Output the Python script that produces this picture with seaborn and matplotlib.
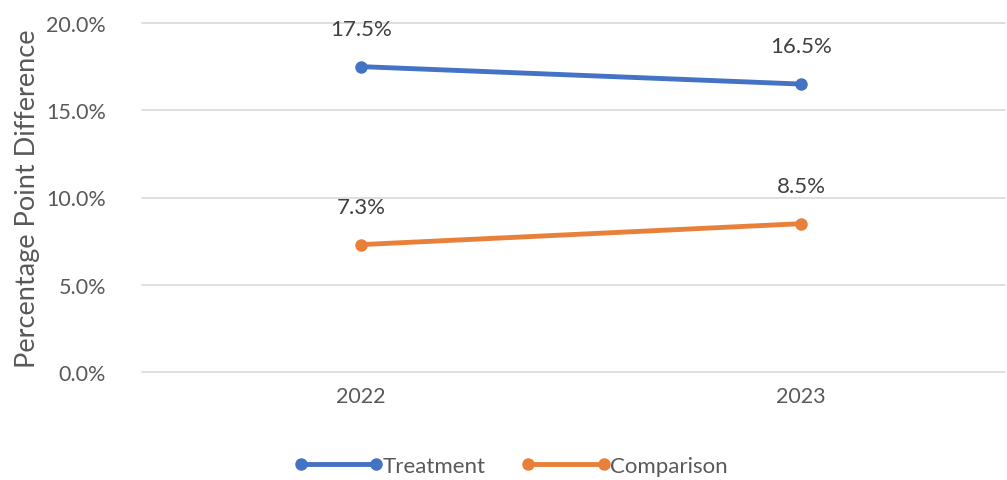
import matplotlib
matplotlib.use("Agg")
import matplotlib.pyplot as plt
import seaborn as sns
import pandas as pd
from matplotlib.ticker import FuncFormatter

years = ["2022", "2023"]
treatment = [17.5, 16.5]
comparison = [7.3, 8.5]
series_names = ["Treatment", "Comparison"]
colors = ["#4472C4", "#E8803A"]

df = pd.DataFrame({
    "Year": years * 2,
    "x": [0, 1] * 2,
    "Value": treatment + comparison,
    "Series": [series_names[0]] * 2 + [series_names[1]] * 2,
})

sns.set_style("white")
plt.rcParams["font.family"] = ["Lato", "DejaVu Sans"]
txt = "#595959"

fig = plt.figure(figsize=(10.07, 4.81), dpi=100)
ax = fig.add_axes([142/1007, 1-373/481, (1005-142)/1007, (373-24)/481])

sns.lineplot(data=df, x="x", y="Value", hue="Series", palette=colors,
             marker="o", markersize=9, markeredgewidth=0, linewidth=3.5,
             ax=ax, legend=True)

for name, vals in zip(series_names, [treatment, comparison]):
    for i, v in enumerate(vals):
        ax.annotate(f"{v:.1f}%", (i, v), xytext=(0, 20), textcoords="offset points",
                    ha="center", va="bottom", fontsize=16, color="#404040")

ax.set_xlim(-(361-142)/440, (1005-361)/440)
ax.set_ylim(0, 20)
ax.set_yticks([0, 5, 10, 15, 20])
ax.yaxis.set_major_formatter(FuncFormatter(lambda v, p: f"{v:.1f}%"))
ax.set_xticks([0, 1])
ax.set_xticklabels(years)
ax.tick_params(axis="both", labelsize=15.5, colors=txt, length=0, pad=10)
ax.tick_params(axis="y", pad=26)
ax.grid(axis="y", color="#D9D9D9", linewidth=1.2)
for gl in ax.get_ygridlines():
    gl.set_clip_on(False)
ax.set_axisbelow(True)
for s in ax.spines.values():
    s.set_visible(False)
ax.set_xlabel("")
ax.set_ylabel("Percentage Point Difference", fontsize=19.5, color=txt, labelpad=4)

handles, labels = ax.get_legend_handles_labels()
leg = ax.legend(handles, labels, loc="center", bbox_to_anchor=(511/1007, 1-467/481),
                bbox_transform=fig.transFigure, ncol=2, frameon=False, fontsize=16,
                handlelength=4.0, handletextpad=0.0, columnspacing=1.6, numpoints=2)
for t in leg.get_texts():
    t.set_color(txt)

fig.savefig("out.png", dpi=100)
